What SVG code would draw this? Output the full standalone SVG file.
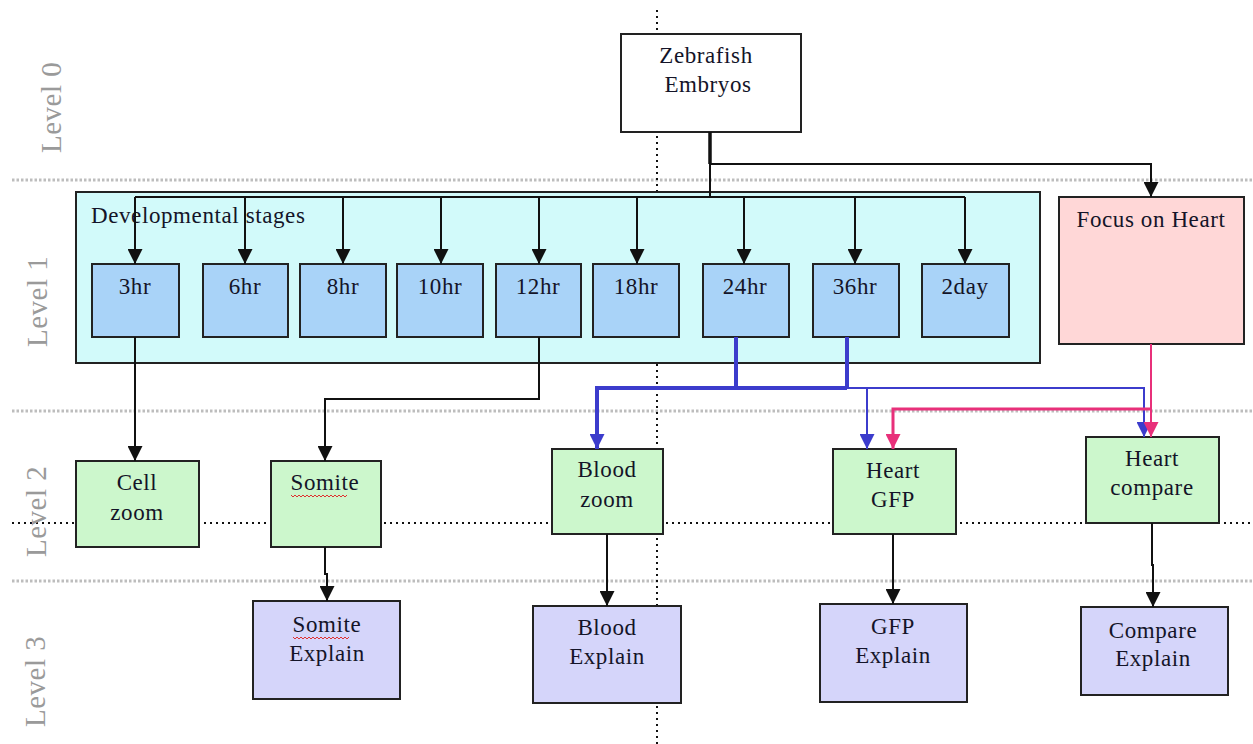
<svg xmlns="http://www.w3.org/2000/svg" width="1253" height="744" viewBox="0 0 1253 744">
<style>
.lvl{font-family:"Liberation Serif","Times New Roman",serif;font-size:29px;fill:#9a9a9a;letter-spacing:0.5px}
.t{font-family:"Liberation Serif","Times New Roman",serif;font-size:23px;fill:#141428;text-anchor:middle;letter-spacing:0.6px}
.box{stroke:#222;stroke-width:2}
.stage{fill:#a9d3f8}
.l2{fill:#ccf7cc}
.l3{fill:#d5d5fa}
.gdot{stroke:#bdbdbd;stroke-width:3;stroke-dasharray:2.5 2;fill:none}
.kdot{stroke:#111;stroke-width:2;stroke-dasharray:2 4;fill:none}
.c{fill:none;stroke:#111;stroke-width:2}
.cb{fill:none;stroke:#3c3ccc;stroke-width:2}
.cbt{fill:none;stroke:#3c3ccc;stroke-width:4}
.cp{fill:none;stroke:#e8307a;stroke-width:2}
.cpt{fill:none;stroke:#e8307a;stroke-width:3}
.sq{fill:none;stroke:#e03030;stroke-width:1}
</style>
<defs>
<marker id="ak" viewBox="0 0 10 10" refX="10" refY="5" markerWidth="15" markerHeight="15" markerUnits="userSpaceOnUse" orient="auto"><path d="M0,0 L10,5 L0,10 z" fill="#111"/></marker>
<marker id="ab" viewBox="0 0 10 10" refX="10" refY="5" markerWidth="15" markerHeight="15" markerUnits="userSpaceOnUse" orient="auto"><path d="M0,0 L10,5 L0,10 z" fill="#3c3ccc"/></marker>
<marker id="ap" viewBox="0 0 10 10" refX="10" refY="5" markerWidth="15" markerHeight="15" markerUnits="userSpaceOnUse" orient="auto"><path d="M0,0 L10,5 L0,10 z" fill="#e8307a"/></marker>
</defs>
<rect width="1253" height="744" fill="#fff"/>

<g id="guides">
<line class="gdot" x1="12" y1="180" x2="1253" y2="180"/>
<line class="gdot" x1="12" y1="411" x2="1253" y2="411"/>
<line class="gdot" x1="12" y1="581" x2="1253" y2="581"/>
<line class="kdot" x1="12" y1="523" x2="1253" y2="523"/>
<line class="kdot" x1="657" y1="10" x2="657" y2="744"/>
</g>

<g id="level-labels">
<text class="lvl" transform="translate(61,153) rotate(-90)">Level 0</text>
<text class="lvl" transform="translate(47,347) rotate(-90)">Level 1</text>
<text class="lvl" transform="translate(46,557) rotate(-90)">Level 2</text>
<text class="lvl" transform="translate(45,727) rotate(-90)">Level 3</text>
</g>

<g id="dev-stages">
<rect x="76" y="192" width="964" height="171" fill="#d2fafa" stroke="#222" stroke-width="2"/>
<text x="91" y="223" class="t" style="text-anchor:start">Developmental stages</text>
</g>

<g id="zebrafish">
<rect class="box" x="621" y="34" width="180" height="98" fill="#fff"/>
<text class="t" x="706" y="63">Zebrafish</text>
<text class="t" x="708" y="92">Embryos</text>
</g>

<g id="focus-heart">
<rect class="box" x="1059" y="197" width="185" height="147" fill="#ffd7d7"/>
<text class="t" x="1151" y="227">Focus on Heart</text>
</g>

<g id="s3hr"><rect class="box stage" x="92" y="264" width="87" height="73"/><text class="t" x="135" y="294">3hr</text></g>
<g id="s6hr"><rect class="box stage" x="203" y="264" width="85" height="73"/><text class="t" x="245" y="294">6hr</text></g>
<g id="s8hr"><rect class="box stage" x="300" y="264" width="86" height="73"/><text class="t" x="343" y="294">8hr</text></g>
<g id="s10hr"><rect class="box stage" x="397" y="264" width="86" height="73"/><text class="t" x="440" y="294">10hr</text></g>
<g id="s12hr"><rect class="box stage" x="496" y="264" width="85" height="73"/><text class="t" x="538" y="294">12hr</text></g>
<g id="s18hr"><rect class="box stage" x="593" y="264" width="86" height="73"/><text class="t" x="636" y="294">18hr</text></g>
<g id="s24hr"><rect class="box stage" x="703" y="264" width="86" height="73"/><text class="t" x="745" y="294">24hr</text></g>
<g id="s36hr"><rect class="box stage" x="813" y="264" width="86" height="73"/><text class="t" x="855" y="294">36hr</text></g>
<g id="s2day"><rect class="box stage" x="922" y="264" width="87" height="73"/><text class="t" x="965" y="294">2day</text></g>

<g id="cell-zoom"><rect class="box l2" x="76" y="461" width="123" height="86"/><text class="t" x="137" y="490">Cell</text><text class="t" x="137" y="520">zoom</text></g>
<g id="somite"><rect class="box l2" x="271" y="461" width="110" height="86"/><text class="t" x="325" y="490">Somite</text><path class="sq" d="M291,495 l2,2 l2,-2 l2,2 l2,-2 l2,2 l2,-2 l2,2 l2,-2 l2,2 l2,-2 l2,2 l2,-2 l2,2 l2,-2 l2,2 l2,-2 l2,2 l2,-2 l2,2 l2,-2 l2,2 l2,-2 l2,2 l2,-2 l2,2 l2,-2 l2,2 l2,-2"/></g>
<g id="blood-zoom"><rect class="box l2" x="552" y="449" width="111" height="85"/><text class="t" x="607" y="477">Blood</text><text class="t" x="607" y="507">zoom</text></g>
<g id="heart-gfp"><rect class="box l2" x="833" y="449" width="123" height="85"/><text class="t" x="893" y="478">Heart</text><text class="t" x="893" y="507">GFP</text></g>
<g id="heart-compare"><rect class="box l2" x="1086" y="437" width="133" height="86"/><text class="t" x="1152" y="466">Heart</text><text class="t" x="1152" y="495">compare</text></g>

<g id="somite-explain"><rect class="box l3" x="253" y="601" width="147" height="98"/><text class="t" x="327" y="632">Somite</text><path class="sq" d="M293,637 l2,2 l2,-2 l2,2 l2,-2 l2,2 l2,-2 l2,2 l2,-2 l2,2 l2,-2 l2,2 l2,-2 l2,2 l2,-2 l2,2 l2,-2 l2,2 l2,-2 l2,2 l2,-2 l2,2 l2,-2 l2,2 l2,-2 l2,2 l2,-2 l2,2 l2,-2"/><text class="t" x="327" y="661">Explain</text></g>
<g id="blood-explain"><rect class="box l3" x="533" y="606" width="148" height="97"/><text class="t" x="607" y="635">Blood</text><text class="t" x="607" y="664">Explain</text></g>
<g id="gfp-explain"><rect class="box l3" x="820" y="604" width="147" height="98"/><text class="t" x="893" y="634">GFP</text><text class="t" x="893" y="663">Explain</text></g>
<g id="compare-explain"><rect class="box l3" x="1081" y="607" width="147" height="88"/><text class="t" x="1153" y="638">Compare</text><text class="t" x="1153" y="666">Explain</text></g>

<g id="connectors">
<line x1="710" y1="132" x2="710" y2="164" stroke="#111" stroke-width="3.5"/>
<path class="c" d="M710,164 H1151 V197" marker-end="url(#ak)"/>
<path class="c" d="M710,164 V197"/>
<path class="c" d="M135,197 H965"/>
<path class="c" d="M135,197 V264" marker-end="url(#ak)"/>
<path class="c" d="M245,197 V264" marker-end="url(#ak)"/>
<path class="c" d="M343,197 V264" marker-end="url(#ak)"/>
<path class="c" d="M441,197 V264" marker-end="url(#ak)"/>
<path class="c" d="M539,197 V264" marker-end="url(#ak)"/>
<path class="c" d="M637,197 V264" marker-end="url(#ak)"/>
<path class="c" d="M744,197 V264" marker-end="url(#ak)"/>
<path class="c" d="M855,197 V264" marker-end="url(#ak)"/>
<path class="c" d="M965,197 V264" marker-end="url(#ak)"/>

<path class="c" d="M135,337 V461" marker-end="url(#ak)"/>
<path class="c" d="M539,337 V399 H325 V461" marker-end="url(#ak)"/>

<path class="cbt" d="M736,337 V388"/>
<path class="cbt" d="M847,337 V388"/>
<path class="cbt" d="M847,388 H597 V449" marker-end="url(#ab)"/>
<path class="cb" d="M847,388 H1144 V437" marker-end="url(#ab)"/>
<path class="cb" d="M867,388 V449" marker-end="url(#ab)"/>

<path class="cp" d="M1151,344 V437" marker-end="url(#ap)"/>
<path class="cpt" d="M1151,409 H893 V449" marker-end="url(#ap)"/>

<path class="c" d="M325,547 V574 H327 V601" marker-end="url(#ak)"/>
<path class="c" d="M607,534 V606" marker-end="url(#ak)"/>
<path class="c" d="M893,534 V604" marker-end="url(#ak)"/>
<path class="c" d="M1152,523 V565 H1153 V607" marker-end="url(#ak)"/>
</g>
</svg>
